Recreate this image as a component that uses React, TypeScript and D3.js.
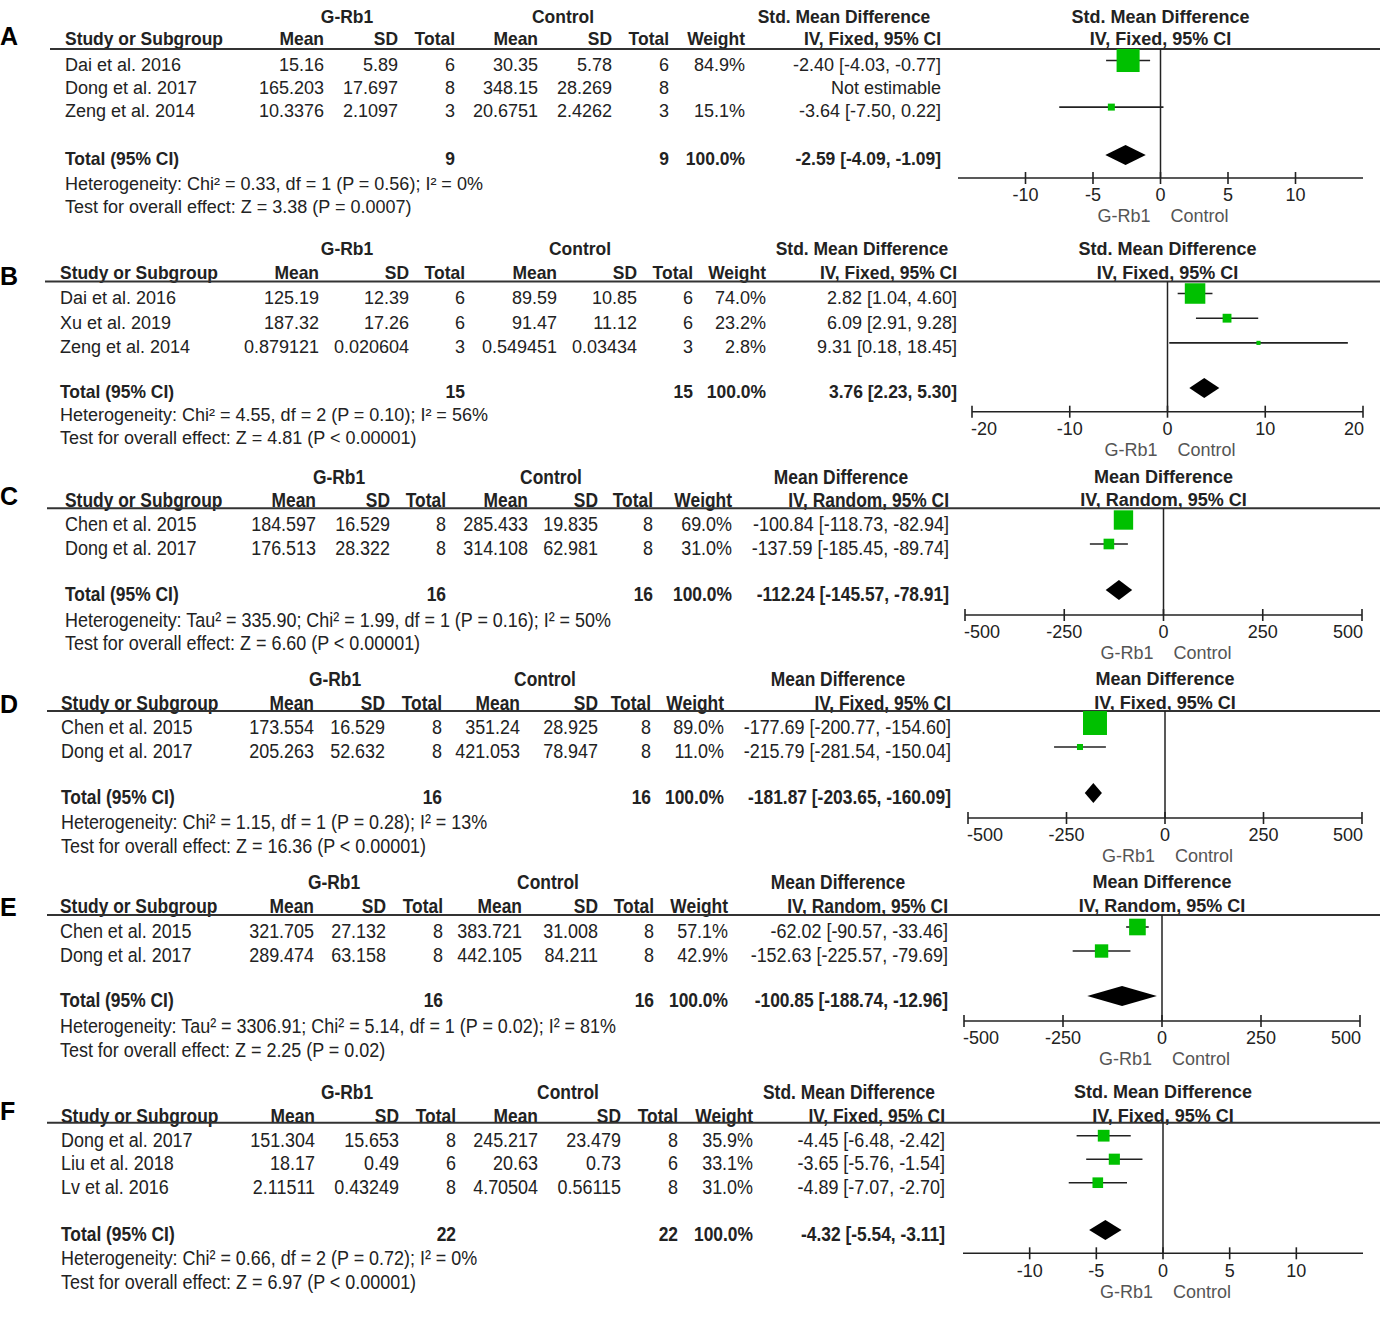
import React from 'react';
import * as d3 from 'd3';

const FONT = '"Liberation Sans", Arial, sans-serif';
const GREEN = '#00c000';
const INK = '#222';

// ---------- A ----------
const studiesA = ['Dai et al. 2016', 'Dong et al. 2017', 'Zeng et al. 2014'];
const rbMeanA = [15.16, 165.203, 10.3376];
const rbSdA = [5.89, 17.697, 2.1097];
const rbNA = [6, 8, 3];
const ctMeanA = [30.35, 348.15, 20.6751];
const ctSdA = [5.78, 28.269, 2.4262];
const ctNA = [6, 8, 3];
const weightA = [84.9, null, 15.1];
const estA = [-2.4, null, -3.64];
const loA = [-4.03, null, -7.5];
const hiA = [-0.77, null, 0.22];
const pooledA = [-2.59, -4.09, -1.09];
const hetA = 'Heterogeneity: Chi² = 0.33, df = 1 (P = 0.56); I² = 0%';
const testA = 'Test for overall effect: Z = 3.38 (P = 0.0007)';

// ---------- B ----------
const studiesB = ['Dai et al. 2016', 'Xu et al. 2019', 'Zeng et al. 2014'];
const rbMeanB = [125.19, 187.32, 0.879121];
const rbSdB = [12.39, 17.26, 0.020604];
const rbNB = [6, 6, 3];
const ctMeanB = [89.59, 91.47, 0.549451];
const ctSdB = [10.85, 11.12, 0.03434];
const ctNB = [6, 6, 3];
const weightB = [74.0, 23.2, 2.8];
const estB = [2.82, 6.09, 9.31];
const loB = [1.04, 2.91, 0.18];
const hiB = [4.6, 9.28, 18.45];
const pooledB = [3.76, 2.23, 5.3];
const hetB = 'Heterogeneity: Chi² = 4.55, df = 2 (P = 0.10); I² = 56%';
const testB = 'Test for overall effect: Z = 4.81 (P < 0.00001)';

// ---------- C ----------
const studiesC = ['Chen et al. 2015', 'Dong et al. 2017'];
const rbMeanC = [184.597, 176.513];
const rbSdC = [16.529, 28.322];
const rbNC = [8, 8];
const ctMeanC = [285.433, 314.108];
const ctSdC = [19.835, 62.981];
const ctNC = [8, 8];
const weightC = [69.0, 31.0];
const estC = [-100.84, -137.59];
const loC = [-118.73, -185.45];
const hiC = [-82.94, -89.74];
const pooledC = [-112.24, -145.57, -78.91];
const hetC = 'Heterogeneity: Tau² = 335.90; Chi² = 1.99, df = 1 (P = 0.16); I² = 50%';
const testC = 'Test for overall effect: Z = 6.60 (P < 0.00001)';

// ---------- D ----------
const studiesD = ['Chen et al. 2015', 'Dong et al. 2017'];
const rbMeanD = [173.554, 205.263];
const rbSdD = [16.529, 52.632];
const rbND = [8, 8];
const ctMeanD = [351.24, 421.053];
const ctSdD = [28.925, 78.947];
const ctND = [8, 8];
const weightD = [89.0, 11.0];
const estD = [-177.69, -215.79];
const loD = [-200.77, -281.54];
const hiD = [-154.6, -150.04];
const pooledD = [-181.87, -203.65, -160.09];
const hetD = 'Heterogeneity: Chi² = 1.15, df = 1 (P = 0.28); I² = 13%';
const testD = 'Test for overall effect: Z = 16.36 (P < 0.00001)';

// ---------- E ----------
const studiesE = ['Chen et al. 2015', 'Dong et al. 2017'];
const rbMeanE = [321.705, 289.474];
const rbSdE = [27.132, 63.158];
const rbNE = [8, 8];
const ctMeanE = [383.721, 442.105];
const ctSdE = [31.008, 84.211];
const ctNE = [8, 8];
const weightE = [57.1, 42.9];
const estE = [-62.02, -152.63];
const loE = [-90.57, -225.57];
const hiE = [-33.46, -79.69];
const pooledE = [-100.85, -188.74, -12.96];
const hetE = 'Heterogeneity: Tau² = 3306.91; Chi² = 5.14, df = 1 (P = 0.02); I² = 81%';
const testE = 'Test for overall effect: Z = 2.25 (P = 0.02)';

// ---------- F ----------
const studiesF = ['Dong et al. 2017', 'Liu et al. 2018', 'Lv et al. 2016'];
const rbMeanF = [151.304, 18.17, 2.11511];
const rbSdF = [15.653, 0.49, 0.43249];
const rbNF = [8, 6, 8];
const ctMeanF = [245.217, 20.63, 4.70504];
const ctSdF = [23.479, 0.73, 0.56115];
const ctNF = [8, 6, 8];
const weightF = [35.9, 33.1, 31.0];
const estF = [-4.45, -3.65, -4.89];
const loF = [-6.48, -5.76, -7.07];
const hiF = [-2.42, -1.54, -2.7];
const pooledF = [-4.32, -5.54, -3.11];
const hetF = 'Heterogeneity: Chi² = 0.66, df = 2 (P = 0.72); I² = 0%';
const testF = 'Test for overall effect: Z = 6.97 (P < 0.00001)';

const ticksSmd = [-10, -5, 0, 5, 10];
const ticksSmdB = [-20, -10, 0, 10, 20];
const ticksMd = [-500, -250, 0, 250, 500];

const SMD = 'Std. Mean Difference';
const MD = 'Mean Difference';
const FIXED = 'IV, Fixed, 95% CI';
const RANDOM = 'IV, Random, 95% CI';

const panels = [
  {
    letter: 'A', studies: studiesA, rbMean: rbMeanA, rbSd: rbSdA, rbN: rbNA, ctMean: ctMeanA, ctSd: ctSdA, ctN: ctNA,
    weight: weightA, est: estA, lo: loA, hi: hiA, pooled: pooledA, het: hetA, test: testA,
    measure: SMD, method: FIXED, domain: [-15, 15], ticks: ticksSmd, endTicks: false, narrow: false,
    lay: { letterY: 36, top: 16.5, col: 38.5, line: 49, row0: 64.5, rowH: 23.3, total: 159, het: 184, test: 206.5, axis: 178,
      lineX0: 50, nameX: 65, cols: [324, 398, 455, 538, 612, 669, 745, 941], groups: [347, 563, 844], plot: [958, 1363] },
  },
  {
    letter: 'B', studies: studiesB, rbMean: rbMeanB, rbSd: rbSdB, rbN: rbNB, ctMean: ctMeanB, ctSd: ctSdB, ctN: ctNB,
    weight: weightB, est: estB, lo: loB, hi: hiB, pooled: pooledB, het: hetB, test: testB,
    measure: SMD, method: FIXED, domain: [-20, 20], ticks: ticksSmdB, endTicks: true, narrow: false,
    lay: { letterY: 276, top: 249, col: 273, line: 281.5, row0: 297.5, rowH: 24.7, total: 392, het: 414.5, test: 438, axis: 411.7,
      lineX0: 45, nameX: 60, cols: [319, 409, 465, 557, 637, 693, 766, 957], groups: [347, 580, 862], plot: [972, 1363] },
  },
  {
    letter: 'C', studies: studiesC, rbMean: rbMeanC, rbSd: rbSdC, rbN: rbNC, ctMean: ctMeanC, ctSd: ctSdC, ctN: ctNC,
    weight: weightC, est: estC, lo: loC, hi: hiC, pooled: pooledC, het: hetC, test: testC,
    measure: MD, method: RANDOM, domain: [-500, 500], ticks: ticksMd, endTicks: true, narrow: true,
    lay: { letterY: 496, top: 476.5, col: 500, line: 508.3, row0: 524, rowH: 24, total: 594, het: 620, test: 643, axis: 615,
      lineX0: 47, nameX: 65, cols: [316, 390, 446, 528, 598, 653, 732, 949], groups: [339, 551, 841], plot: [965, 1362] },
  },
  {
    letter: 'D', studies: studiesD, rbMean: rbMeanD, rbSd: rbSdD, rbN: rbND, ctMean: ctMeanD, ctSd: ctSdD, ctN: ctND,
    weight: weightD, est: estD, lo: loD, hi: hiD, pooled: pooledD, het: hetD, test: testD,
    measure: MD, method: FIXED, domain: [-500, 500], ticks: ticksMd, endTicks: true, narrow: true,
    lay: { letterY: 704, top: 679, col: 703, line: 711, row0: 727, rowH: 24, total: 797, het: 822, test: 846, axis: 818,
      lineX0: 47, nameX: 61, cols: [314, 385, 442, 520, 598, 651, 724, 951], groups: [335, 545, 838], plot: [968, 1362] },
  },
  {
    letter: 'E', studies: studiesE, rbMean: rbMeanE, rbSd: rbSdE, rbN: rbNE, ctMean: ctMeanE, ctSd: ctSdE, ctN: ctNE,
    weight: weightE, est: estE, lo: loE, hi: hiE, pooled: pooledE, het: hetE, test: testE,
    measure: MD, method: RANDOM, domain: [-500, 500], ticks: ticksMd, endTicks: true, narrow: true,
    lay: { letterY: 907, top: 882, col: 906, line: 915, row0: 931, rowH: 24, total: 1000, het: 1026, test: 1050, axis: 1021,
      lineX0: 47, nameX: 60, cols: [314, 386, 443, 522, 598, 654, 728, 948], groups: [334, 548, 838], plot: [964, 1360] },
  },
  {
    letter: 'F', studies: studiesF, rbMean: rbMeanF, rbSd: rbSdF, rbN: rbNF, ctMean: ctMeanF, ctSd: ctSdF, ctN: ctNF,
    weight: weightF, est: estF, lo: loF, hi: hiF, pooled: pooledF, het: hetF, test: testF,
    measure: SMD, method: FIXED, domain: [-15, 15], ticks: ticksSmd, endTicks: false, narrow: true,
    lay: { letterY: 1111, top: 1092, col: 1116, line: 1122.7, row0: 1139.7, rowH: 23.5, total: 1234, het: 1258, test: 1282, axis: 1253.3,
      lineX0: 47, nameX: 61, cols: [315, 399, 456, 538, 621, 678, 753, 945], groups: [347, 568, 849], plot: [963, 1363] },
  },
];

const boxSize = d3.scaleLinear().domain([0, 100]).range([3.5, 26.5]);

type TxtProps = {
  x: number; y: number; children: React.ReactNode; anchor?: string; bold?: boolean;
  size?: number; sx?: number; fill?: string;
};

const Txt = ({ x, y, children, anchor = 'start', bold = false, size = 18, sx = 1, fill = INK }: TxtProps) => (
  <text
    transform={`translate(${x},${y}) scale(${sx},1)`}
    textAnchor={anchor}
    fontWeight={bold ? 700 : 400}
    fontSize={size}
    fill={fill}
    dy="0.35em"
  >
    {children}
  </text>
);

const fmtCI = (e: number, l: number, h: number) => `${e.toFixed(2)} [${l.toFixed(2)}, ${h.toFixed(2)}]`;

const Panel = ({ p }: { p: any }) => {
  const L = p.lay;
  const x = d3.scaleLinear().domain(p.domain).range(L.plot);
  const x0 = x(0);
  const tSize = p.narrow ? 20.5 : 18;
  const tSx = p.narrow ? 0.875 : 1;
  // bold headers in the narrow tables are a touch tighter
  const T = (props: TxtProps) => <Txt size={tSize} sx={props.bold ? tSx * 0.97 : tSx} {...props} />;
  const rowY = (i: number) => L.row0 + i * L.rowH;
  const c = L.cols;
  const ok = p.est.map((e: number | null) => e !== null);
  const totRb = d3.sum(p.rbN.filter((_: number, i: number) => ok[i]));
  const totCt = d3.sum(p.ctN.filter((_: number, i: number) => ok[i]));
  const markOff = -4;
  const [pe, pl, ph] = p.pooled;
  const dy = L.total + markOff;

  return (
    <g>
      <Txt x={0} y={L.letterY} bold size={25} fill="#000">{p.letter}</Txt>

      {/* group headers */}
      <T x={L.groups[0]} y={L.top} anchor="middle" bold>G-Rb1</T>
      <T x={L.groups[1]} y={L.top} anchor="middle" bold>Control</T>
      <T x={L.groups[2]} y={L.top} anchor="middle" bold>{p.measure}</T>
      <Txt x={x0} y={L.top} anchor="middle" bold>{p.measure}</Txt>

      {/* column headers */}
      <T x={L.nameX} y={L.col} bold>Study or Subgroup</T>
      {['Mean', 'SD', 'Total', 'Mean', 'SD', 'Total', 'Weight', p.method].map((h, i) => (
        <T key={i} x={c[i]} y={L.col} anchor="end" bold>{h}</T>
      ))}
      <Txt x={x0} y={L.col} anchor="middle" bold>{p.method}</Txt>
      <line x1={L.lineX0} x2={1380} y1={L.line} y2={L.line} stroke="#333" strokeWidth={2} />

      {/* study rows */}
      {p.studies.map((s: string, i: number) => {
        const y = rowY(i);
        const cells = [p.rbMean[i], p.rbSd[i], p.rbN[i], p.ctMean[i], p.ctSd[i], p.ctN[i]].map(String);
        return (
          <g key={s}>
            <T x={L.nameX} y={y}>{s}</T>
            {cells.map((v, j) => <T key={j} x={c[j]} y={y} anchor="end">{v}</T>)}
            {p.weight[i] !== null && <T x={c[6]} y={y} anchor="end">{`${p.weight[i].toFixed(1)}%`}</T>}
            <T x={c[7]} y={y} anchor="end">
              {ok[i] ? fmtCI(p.est[i], p.lo[i], p.hi[i]) : 'Not estimable'}
            </T>
          </g>
        );
      })}

      {/* total row */}
      <T x={L.nameX} y={L.total} bold>Total (95% CI)</T>
      <T x={c[2]} y={L.total} anchor="end" bold>{String(totRb)}</T>
      <T x={c[5]} y={L.total} anchor="end" bold>{String(totCt)}</T>
      <T x={c[6]} y={L.total} anchor="end" bold>100.0%</T>
      <T x={c[7]} y={L.total} anchor="end" bold>{fmtCI(pe, pl, ph)}</T>
      <T x={L.nameX} y={L.het}>{p.het}</T>
      <T x={L.nameX} y={L.test}>{p.test}</T>

      {/* forest plot */}
      <line x1={x0} x2={x0} y1={L.line} y2={L.axis} stroke={INK} strokeWidth={1.5} />
      {p.studies.map((s: string, i: number) => {
        if (!ok[i]) return null;
        const y = rowY(i) + markOff;
        const sz = boxSize(p.weight[i]);
        return (
          <g key={'m' + s}>
            <line x1={x(p.lo[i])} x2={x(p.hi[i])} y1={y} y2={y} stroke={INK} strokeWidth={1.6} />
            <rect x={x(p.est[i]) - sz / 2} y={y - sz / 2} width={sz} height={sz} fill={GREEN} />
          </g>
        );
      })}
      <path
        d={`M${x(pl)},${dy} L${x(pe)},${dy - 10} L${x(ph)},${dy} L${x(pe)},${dy + 10} Z`}
        fill="#000"
      />

      {/* axis */}
      <line x1={L.plot[0]} x2={L.plot[1]} y1={L.axis} y2={L.axis} stroke={INK} strokeWidth={1.6} />
      {p.ticks.map((t: number, i: number) => {
        const first = i === 0;
        const last = i === p.ticks.length - 1;
        const anchor = p.endTicks ? (first ? 'start' : last ? 'end' : 'middle') : 'middle';
        const lx = p.endTicks && first ? x(t) - 1 : p.endTicks && last ? x(t) + 1 : x(t);
        return (
          <g key={t}>
            <line x1={x(t)} x2={x(t)} y1={L.axis - 6} y2={L.axis + 6} stroke={INK} strokeWidth={1.6} />
            <Txt x={lx} y={L.axis + 17} anchor={anchor}>{String(t)}</Txt>
          </g>
        );
      })}
      <Txt x={x0 - 10} y={L.axis + 38} anchor="end" fill="#555">G-Rb1</Txt>
      <Txt x={x0 + 10} y={L.axis + 38} fill="#555">Control</Txt>
    </g>
  );
};

export default function App() {
  return (
    <svg
      width={1380}
      height={1317}
      viewBox="0 0 1380 1317"
      style={{ position: 'absolute', left: 0, top: 0, background: '#fff' }}
      fontFamily={FONT}
    >
      <rect width={1380} height={1317} fill="#fff" />
      {panels.map(p => <Panel key={p.letter} p={p} />)}
    </svg>
  );
}
